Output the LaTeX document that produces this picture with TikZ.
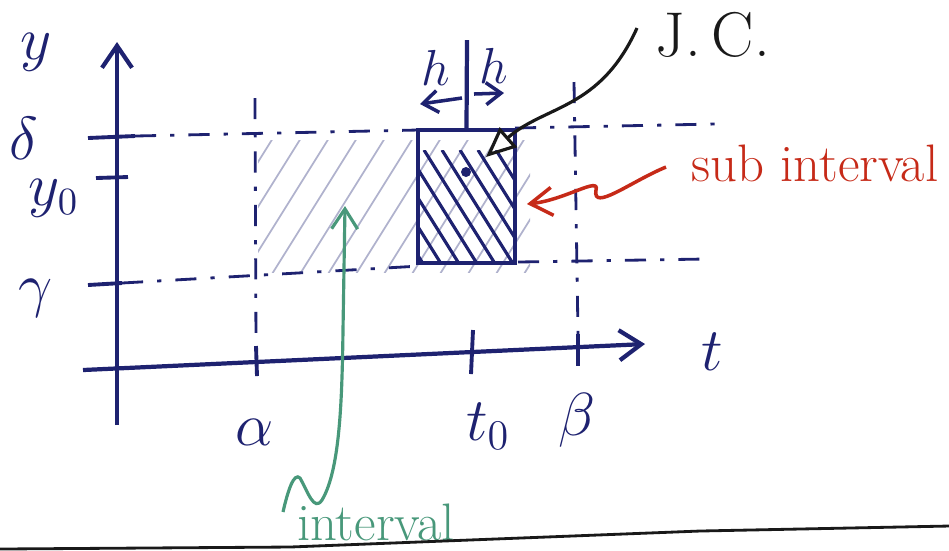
\documentclass[tikz,border=0pt]{standalone}
\usepackage{tikz}
\usetikzlibrary{arrows.meta, positioning, calc}
\definecolor{inkblue}{RGB}{30, 34, 112}
\definecolor{inkred}{RGB}{198, 42, 24}
\definecolor{inkgreen}{RGB}{72, 152, 122}
\definecolor{inkblack}{RGB}{25, 25, 25}
\tikzset{
    axisline/.style={draw=inkblue, line width=1.2pt, -{Straight Barb[length=2.2mm, width=3mm]}},
    tickline/.style={draw=inkblue, line width=1.1pt},
    guideline/.style={draw=inkblue, line width=0.8pt, dash pattern=on 6pt off 4pt on 1.2pt off 4pt},
    boxline/.style={draw=inkblue, line width=1.2pt},
    hatchlight/.style={draw=inkblue!35, line width=0.5pt},
    hatchdark/.style={draw=inkblue, line width=0.9pt},
    harrow/.style={draw=inkblue, line width=1pt, -{Straight Barb[length=1.5mm, width=2.2mm]}},
    pointer/.style={draw=inkblack, line width=0.9pt, -{Triangle[open, length=3mm, width=2.6mm]}},
    redpointer/.style={draw=inkred, line width=1pt, -{Straight Barb[length=2.2mm, width=2.8mm]}},
    greenpointer/.style={draw=inkgreen, line width=0.9pt, -{Straight Barb[length=2mm, width=2.6mm]}},
    axislabel/.style={text=inkblue, font=\fontsize{18}{22}\selectfont, inner sep=1pt},
    hlabel/.style={text=inkblue, font=\fontsize{14}{16}\selectfont, inner sep=1pt},
    note/.style={font=\fontsize{15}{18}\selectfont, inner sep=1pt},
}
\begin{document}
\begin{tikzpicture}[x=0.01cm, y=-0.01cm]
    \useasboundingbox (0,0) rectangle (949,550);

    % axes
    \coordinate (ybot) at (117,425);
    \coordinate (ytop) at (117,42);
    \coordinate (tleft) at (83,370);
    \coordinate (tright) at (645,344);
    \draw[axisline] (ybot) -- (ytop);
    \draw[axisline] (tleft) -- (tright);
    \node[axislabel] (ylab) at (36,52) {$y$};
    \node[axislabel] (tlab) at (712,352) {$t$};

    % ticks on the y axis
    \draw[tickline] (88,138) -- (135,136);
    \draw[tickline] (96,178) -- (128,177);
    \draw[tickline] (88,285) -- (122,283);
    \node[axislabel] (delta) at (24,138) {$\delta$};
    \node[axislabel, font=\fontsize{16}{20}\selectfont] (yzero) at (54,198) {$y_0$};
    \node[axislabel] (gamma) at (36,298) {$\gamma$};

    % ticks on the t axis
    \draw[tickline] (256,346) -- (257,376);
    \draw[tickline] (473,330) -- (471,374);
    \draw[tickline] (578,334) -- (578,366);
    \node[axislabel] (alpha) at (255,432) {$\alpha$};
    \node[axislabel] (tzero) at (488,426) {$t_0$};
    \node[axislabel] (beta) at (577,420) {$\beta$};

    % light hatching of the interval
    \begin{scope}
        \clip (258,140) rectangle (530,272);
        \foreach \x in {150,178,...,560}
            \draw[hatchlight] (\x,290) -- ++(100,-160);
    \end{scope}

    % guide lines
    \draw[guideline] (135,136) -- (418,130);
    \draw[guideline] (515,128) -- (715,124);
    \draw[guideline] (122,283) -- (420,266);
    \draw[guideline] (518,262) -- (705,259);
    \draw[guideline] (255,98) -- (256,346);
    \draw[guideline] (574,82) -- (578,334);

    % sub interval box
    \node[boxline, minimum width=0.97cm, minimum height=1.33cm, inner sep=0pt] (subbox) at (466.5,196.5) {};
    \begin{scope}
        \clip (418,150) rectangle (515,263);
        \foreach \x in {352,370,...,500}
            \draw[hatchdark] (\x,150) -- ++(70,112);
    \end{scope}
    \coordinate (stem) at (467,40);
    \draw[boxline] (stem) -- (subbox.north);
    \fill[inkblue] (466,172) circle (5);

    % h arrows
    \coordinate (hmid) at (462,98);
    \coordinate (hmidr) at (474,94);
    \draw[harrow] (hmid) -- (420,104);
    \draw[harrow] (hmidr) -- (504,93);
    \node[hlabel] (hleft) at (436,68) {$h$};
    \node[hlabel] (hright) at (494,66) {$h$};

    % J. C. pointer
    \node[note, text=inkblack, font=\fontsize{18}{20}\selectfont] (jc) at (718,35) {J.\,C.\,};
    \coordinate (jcstart) at (637,28);
    \coordinate (jctip) at (486,157);
    \draw[pointer] (jcstart) .. controls (600,110) and (545,105) .. (jctip);

    % sub interval label
    \node[note, text=inkred] (sublab) at (815,163) {sub interval};
    \coordinate (substart) at (666,167);
    \coordinate (subtip) at (527,204);
    \draw[redpointer] (substart) .. controls (630,182) and (592,212) .. (596,190)
        .. controls (600,176) and (565,200) .. (subtip);

    % interval label
    \node[note, text=inkgreen] (intlab) at (376,522) {interval};
    \coordinate (intstart) at (283,512);
    \coordinate (inttip) at (345,206);
    \draw[greenpointer] (intstart) .. controls (288,490) and (294,472) .. (300,478)
        .. controls (308,492) and (314,512) .. (322,500)
        .. controls (340,470) and (342,400) .. (343,330) -- (inttip);

    % page line
    \draw[inkblack, line width=0.8pt] (0,549) -- (290,547) -- (700,531) -- (949,526);
\end{tikzpicture}
\end{document}
